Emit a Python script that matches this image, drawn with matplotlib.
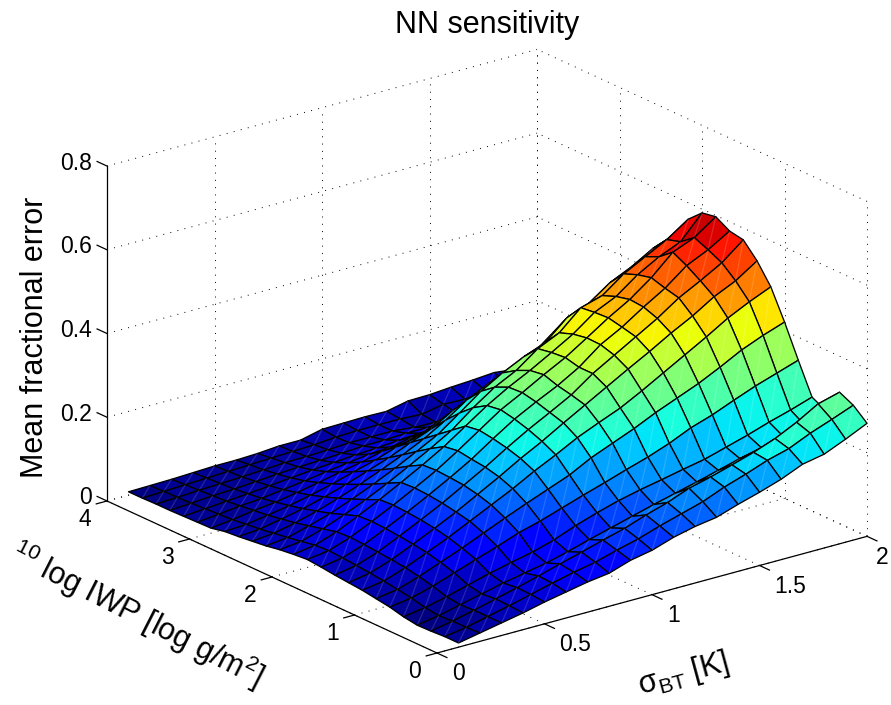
import numpy as np
import matplotlib
matplotlib.use("Agg")
import matplotlib.pyplot as plt
from mpl_toolkits.mplot3d import proj3d
from mpl_toolkits.mplot3d.art3d import Poly3DCollection

plt.rcParams['font.family'] = ['Liberation Sans', 'DejaVu Sans']
plt.rcParams['mathtext.fontset'] = 'custom'
plt.rcParams['mathtext.rm'] = 'Liberation Sans'
plt.rcParams['mathtext.default'] = 'regular'

# sigma_BT en columnas, log IWP en filas
sigma = [0.1, 0.2, 0.3, 0.4, 0.5, 0.6, 0.7, 0.8, 0.9, 1.0,
         1.1, 1.2, 1.3, 1.4, 1.5, 1.6, 1.7, 1.8, 1.9, 2.0]
iwp = [0, 1/6, 2/6, 3/6, 4/6, 5/6, 1, 7/6, 8/6, 9/6, 10/6, 11/6, 2,
       13/6, 14/6, 15/6, 16/6, 17/6, 3, 19/6, 20/6, 21/6, 22/6, 23/6, 4]
error = [
    [.010, .020, .030, .040, .052, .062, .072, .079, .096, .106, .123, .135, .143, .160, .175, .192, .214, .224, .246, .270],
    [.010, .018, .030, .042, .055, .068, .080, .090, .105, .118, .135, .150, .165, .186, .203, .222, .236, .259, .278, .298],
    [.008, .018, .030, .043, .056, .070, .085, .099, .114, .128, .146, .162, .182, .195, .210, .226, .245, .270, .300, .314],
    [.007, .016, .028, .040, .052, .062, .072, .085, .100, .114, .128, .142, .155, .168, .182, .196, .208, .222, .235, .255],
    [.012, .020, .032, .046, .060, .072, .083, .098, .118, .135, .150, .162, .172, .183, .193, .208, .223, .240, .255, .272],
    [.020, .028, .042, .060, .078, .095, .114, .128, .145, .162, .178, .195, .211, .230, .253, .270, .291, .311, .328, .345],
    [.025, .033, .050, .070, .090, .112, .134, .155, .175, .195, .222, .243, .264, .288, .309, .330, .355, .382, .403, .421],
    [.030, .038, .056, .078, .100, .125, .150, .175, .203, .228, .255, .277, .298, .325, .354, .383, .412, .443, .468, .490],
    [.033, .042, .060, .083, .107, .132, .160, .188, .218, .245, .275, .304, .333, .362, .390, .420, .447, .479, .503, .537],
    [.036, .045, .063, .087, .112, .138, .167, .196, .228, .258, .285, .313, .350, .380, .410, .440, .475, .502, .531, .572],
    [.040, .048, .066, .090, .115, .142, .170, .200, .235, .268, .295, .320, .350, .390, .418, .452, .483, .523, .547, .578],
    [.043, .050, .068, .092, .117, .144, .172, .205, .240, .275, .302, .331, .358, .391, .425, .455, .493, .540, .561, .597],
    [.040, .048, .066, .090, .115, .142, .170, .200, .235, .270, .300, .326, .355, .385, .423, .447, .485, .514, .536, .591],
    [.036, .042, .058, .078, .100, .125, .152, .180, .210, .250, .285, .311, .349, .373, .419, .434, .472, .499, .526, .561],
    [.030, .036, .050, .066, .086, .108, .132, .158, .185, .222, .260, .290, .315, .335, .380, .400, .436, .460, .490, .509],
    [.026, .031, .042, .056, .073, .092, .113, .135, .160, .190, .225, .250, .270, .290, .330, .350, .385, .410, .430, .450],
    [.022, .026, .036, .047, .061, .077, .095, .113, .135, .155, .185, .205, .220, .240, .270, .290, .320, .340, .360, .380],
    [.019, .022, .030, .039, .050, .063, .078, .092, .110, .120, .145, .160, .170, .185, .210, .230, .250, .270, .285, .300],
    [.012, .018, .026, .032, .041, .051, .062, .072, .085, .090, .105, .115, .125, .135, .155, .170, .185, .200, .210, .225],
    [.011, .016, .022, .026, .033, .040, .048, .055, .062, .065, .075, .080, .085, .095, .110, .120, .130, .140, .150, .160],
    [.010, .014, .018, .022, .027, .032, .037, .041, .045, .048, .052, .055, .058, .065, .075, .080, .090, .100, .105, .110],
    [.009, .012, .016, .018, .022, .026, .029, .031, .034, .037, .038, .040, .040, .045, .050, .055, .060, .065, .070, .075],
    [.009, .011, .014, .016, .018, .021, .024, .025, .027, .030, .030, .030, .025, .023, .030, .035, .040, .045, .050, .055],
    [.008, .010, .012, .014, .016, .018, .020, .022, .024, .028, .030, .030, .030, .027, .037, .035, .040, .042, .045, .048],
    [.008, .009, .010, .012, .014, .014, .016, .020, .020, .032, .033, .034, .033, .044, .045, .049, .052, .056, .050, .060],
]
x_ticks = [0, 0.5, 1, 1.5, 2]
y_ticks = [0, 1, 2, 3, 4]
z_ticks = [0, 0.2, 0.4, 0.6, 0.8]
x_labels = ['0', '0.5', '1', '1.5', '2']
y_labels = ['0', '1', '2', '3', '4']
z_labels = ['0', '0.2', '0.4', '0.6', '0.8']

W, H = 891, 705
ELEV, AZIM = 20.7, -127.5
BOX = (542, 542, 358)
fig = plt.figure(figsize=(W / 100, H / 100), dpi=100)
size = 800
ax = fig.add_axes([0, 0, size / W, size / H], projection='3d', proj_type='ortho')
ax.view_init(elev=ELEV, azim=AZIM)
ax.set_box_aspect(BOX)
ax.set_xlim(0, 2)
ax.set_ylim(0, 4)
ax.set_zlim(0, 0.8)
ax.set_axis_off()
ax.computed_zorder = False


def to_px(x, y, z):
    X, Y, _ = proj3d.proj_transform(x, y, z, ax.get_proj())
    px, py = ax.transData.transform((X, Y))
    return px, H - py


# ajustar la caja a los pixeles de la figura original
left, bottom = 0, 0
for _ in range(3):
    fig.canvas.draw()
    x0, y0 = to_px(0, 0, 0)
    x1, y1 = to_px(2, 0, 0)
    k = 445.6 / np.hypot(x1 - x0, y1 - y0)
    cx, cy = left + size / 2, bottom + size / 2
    ox, oy = x0 - cx, (H - y0) - cy
    size = size * k
    left = 437 - ox * k - size / 2
    bottom = (H - 653) - oy * k - size / 2
    ax.set_position([left / W, bottom / H, size / W, size / H])
fig.canvas.draw()

# superficie: cada celda con su color y la diagonal clara del render original
Z = np.array(error)
cmap = plt.get_cmap('jet', 64)
el, az = np.radians(ELEV), np.radians(AZIM)
toward = np.array([np.cos(el) * np.cos(az) * 2 / BOX[0],
                   np.cos(el) * np.sin(az) * 4 / BOX[1],
                   np.sin(el) * 0.8 / BOX[2]]) * 2
polys, faces, edges = [], [], []
for j in range(len(iwp) - 1):
    for i in range(len(sigma) - 1):
        a = np.array([sigma[i], iwp[j], Z[j, i]])
        b = np.array([sigma[i + 1], iwp[j], Z[j, i + 1]])
        c = np.array([sigma[i + 1], iwp[j + 1], Z[j + 1, i + 1]])
        d = np.array([sigma[i], iwp[j + 1], Z[j + 1, i]])
        polys.append([a, b, c, d])
        faces.append(cmap(Z[j, i] / 0.6))
        edges.append((0, 0, 0, 1))
        polys.append([a + toward, c + toward])
        faces.append((0, 0, 0, 0))
        edges.append((1, 1, 1, 0.14))
surf = Poly3DCollection(polys, facecolors=faces, edgecolors=edges, linewidths=0.95,
                        zsort='average', zorder=2)
ax.add_collection3d(surf, autolim=False)

# rejilla punteada
dots = dict(color='black', lw=0.7, ls=(0, (1, 6.5)), zorder=1)
for v in x_ticks:
    ax.plot([v, v], [0, 4], [0, 0], **dots)
    ax.plot([v, v], [4, 4], [0, 0.8], **dots)
for v in y_ticks:
    ax.plot([0, 2], [v, v], [0, 0], **dots)
    ax.plot([2, 2], [v, v], [0, 0.8], **dots)
for v in z_ticks:
    ax.plot([0, 2], [4, 4], [v, v], **dots)
    ax.plot([2, 2], [0, 4], [v, v], **dots)

# ejes y marcas
solid = dict(color='black', lw=0.9, zorder=3)
ax.plot([0, 2], [0, 0], [0, 0], **solid)
ax.plot([0, 0], [0, 4], [0, 0], **solid)
ax.plot([0, 0], [4, 4], [0, 0.8], **solid)
for v in x_ticks:
    ax.plot([v, v], [0, -0.12], [0, 0], **solid)
for v in y_ticks:
    ax.plot([0, -0.05], [v, v], [0, 0], **solid)
for v in z_ticks:
    ax.plot([0, 0], [4, 4.12], [v, v], **solid)


def put(px, py, s, **kw):
    fig.text(px / W, 1 - py / H, s, **kw)


tick = dict(fontsize=16.5, va='center')
for v, s in zip(x_ticks, x_labels):
    px, py = to_px(v, 0, 0)
    put(min(px + 15, 876), py + 21, s, ha='left', **tick)
for v, s in zip(y_ticks, y_labels):
    px, py = to_px(0, v, 0)
    put(px - 16, py + 19, s, ha='right', **tick)
for v, s in zip(z_ticks, z_labels):
    px, py = to_px(0, 4, v)
    put(px - 15, py - 3, s, ha='right', **tick)

put(487, 25, 'NN sensitivity', fontsize=22, ha='center', va='center')
put(35, 337, 'Mean fractional error', fontsize=22, ha='center', va='center', rotation=90)
put(683, 674, 'σ$_{BT}$ [K]', fontsize=22, ha='center', va='center', rotation=15.2,
    rotation_mode='anchor')
put(137, 615, '$^{10}$ log IWP [log g/m$^2$]', fontsize=22, ha='center', va='center',
    rotation=-27, rotation_mode='anchor')

fig.savefig('out.png', dpi=100)
